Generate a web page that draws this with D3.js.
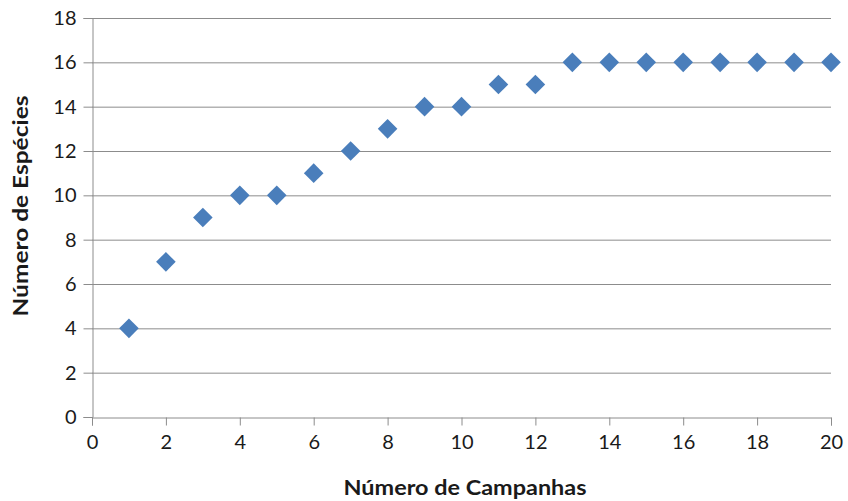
<!DOCTYPE html>
<html><head><meta charset="utf-8">
<script src="https://cdn.jsdelivr.net/npm/d3@7"></script>
<style>body{margin:0;background:#fff}svg{display:block}</style>
</head><body>
<svg id="c" width="848" height="501"></svg>
<script>
const campanhas = [1,2,3,4,5,6,7,8,9,10,11,12,13,14,15,16,17,18,19,20];
const especies = [4,7,9,10,10,11,12,13,14,14,15,15,16,16,16,16,16,16,16,16];
const xTicks = [0,2,4,6,8,10,12,14,16,18,20];
const yTicks = [0,2,4,6,8,10,12,14,16,18];
const xTitle = "Número de Campanhas";
const yTitle = "Número de Espécies";

const svg = d3.select("#c");
const L = 92, R = 831, T = 18, B = 417;
const x = d3.scaleLinear().domain([0,20]).range([L,R]);
const y = d3.scaleLinear().domain([0,18]).range([B,T]);
const font = "Lato, 'Open Sans', sans-serif";
const grey = "#8c8c8c";

svg.append("g").selectAll("line").data(yTicks.filter(d=>d>0)).join("line")
  .attr("x1", L).attr("x2", R).attr("y1", d=>y(d)+0.5).attr("y2", d=>y(d)+0.5)
  .attr("stroke", grey).attr("stroke-width", 1);

const yAxis = svg.append("g").attr("transform", `translate(${L+0.5},0)`)
  .call(d3.axisLeft(y).tickValues(yTicks).tickSize(9).tickPadding(7).tickFormat(d3.format("d")));
const xAxis = svg.append("g").attr("transform", `translate(0,${B+0.5})`)
  .call(d3.axisBottom(x).tickValues(xTicks).tickSize(8).tickPadding(9).tickFormat(d3.format("d")));
[yAxis, xAxis].forEach(a => {
  a.select(".domain").attr("stroke", grey);
  a.selectAll(".tick line").attr("stroke", grey);
  a.selectAll(".tick text").attr("fill", "#1a1a1a").style("font-family", font).style("font-size", "20px");
});

const s = 9.8;
svg.append("g").selectAll("path").data(campanhas).join("path")
  .attr("d", (d,i) => {
    const cx = x(d), cy = y(especies[i]);
    return `M${cx},${cy-s}L${cx+s},${cy}L${cx},${cy+s}L${cx-s},${cy}Z`;
  })
  .attr("fill", "#4a7ebb");

svg.append("text").attr("x", 465).attr("y", 495).attr("text-anchor","middle")
  .attr("textLength", 243).attr("lengthAdjust","spacingAndGlyphs")
  .style("font-family", font).style("font-size","20px").style("font-weight","bold").attr("fill","#1a1a1a")
  .text(xTitle);
svg.append("text").attr("transform", `translate(28,206) rotate(-90)`).attr("text-anchor","middle")
  .attr("textLength", 221).attr("lengthAdjust","spacingAndGlyphs")
  .style("font-family", font).style("font-size","20px").style("font-weight","bold").attr("fill","#1a1a1a")
  .text(yTitle);
</script>
</body></html>
